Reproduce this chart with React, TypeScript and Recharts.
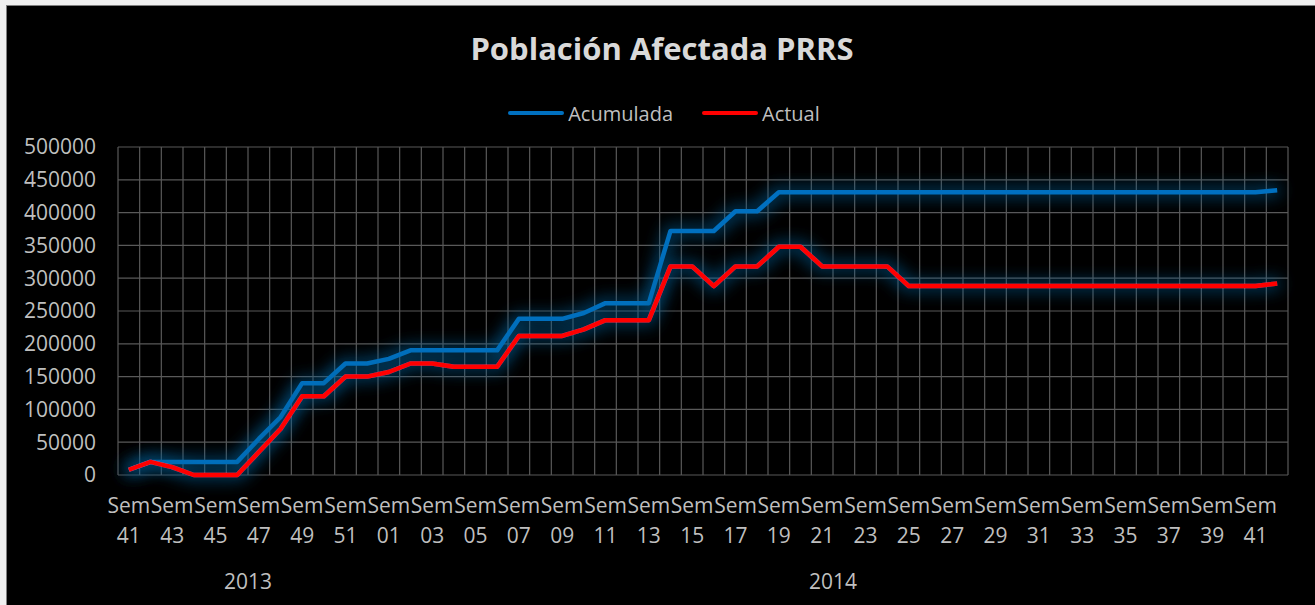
import React from 'react';
import { LineChart, Line, XAxis, YAxis, CartesianGrid, Legend } from 'recharts';

const weeks2013 = ['41', '42', '43', '44', '45', '46', '47', '48', '49', '50', '51', '52'];
const weeks2014 = [
    '01', '02', '03', '04', '05', '06', '07', '08', '09', '10',
    '11', '12', '13', '14', '15', '16', '17', '18', '19', '20',
    '21', '22', '23', '24', '25', '26', '27', '28', '29', '30',
    '31', '32', '33', '34', '35', '36', '37', '38', '39', '40',
    '41', '42',
];
const years = ['2013', '2014'];

const acumulada = [
    8000, 20000, 20000, 20000, 20000, 20000, 55000, 88000, 140000, 140000, 170000, 170000,
    177000, 190000, 190000, 190000, 190000, 190000, 238000, 238000, 238000, 247000,
    262000, 262000, 262000, 372000, 372000, 372000, 402000, 402000,
    431000, 431000, 431000, 431000, 431000, 431000, 431000, 431000, 431000, 431000,
    431000, 431000, 431000, 431000, 431000, 431000, 431000, 431000, 431000, 431000,
    431000, 431000, 431000, 434000,
];
const actual = [
    8000, 20000, 12000, 0, 0, 0, 35000, 70000, 120000, 120000, 150000, 150000,
    157000, 170000, 170000, 165000, 165000, 165000, 212000, 212000, 212000, 222000,
    236000, 236000, 236000, 318000, 318000, 288000, 318000, 318000,
    348000, 348000, 318000, 318000, 318000, 318000,
    288000, 288000, 288000, 288000, 288000, 288000, 288000, 288000, 288000, 288000,
    288000, 288000, 288000, 288000, 288000, 288000, 288000, 292000,
];
const yTicks = [0, 50000, 100000, 150000, 200000, 250000, 300000, 350000, 400000, 450000, 500000];
const seriesOrder = ['Acumulada', 'Actual'];

const W = 1308;
const H = 599;
const MARGIN = { top: 141, right: 27, bottom: 0, left: 0 };
const Y_W = 111;
const X_H = 130;
const FONT = '"Open Sans", "Noto Sans", sans-serif';
const TEXT = '#bfbfbf';

const data = [
    ...weeks2013.map((w) => ({ week: `Sem ${w}`, year: years[0] })),
    ...weeks2014.map((w) => ({ week: `Sem ${w}`, year: years[1] })),
].map((d, i) => ({ ...d, acumulada: acumulada[i], actual: actual[i] }));

const N = data.length;
const BAND = (W - MARGIN.left - Y_W - MARGIN.right) / N;

// middle of each year group, in category index units
const yearCenters = years.map((y) => {
    const idx = data.map((d, i) => (d.year === y ? i : -1)).filter((i) => i >= 0);
    return { year: y, mid: (idx[0] + idx[idx.length - 1]) / 2 };
});

const XTick = (props: any) => {
    const { x, y, index, payload } = props;
    const [sem, num] = String(payload.value).split(' ');
    const group = yearCenters.find((g) => Math.floor(g.mid) === index);
    return (
        <g>
            {index % 2 === 0 && (
                <text textAnchor="middle" fill={TEXT} fontSize={21} fontFamily={FONT}>
                    <tspan x={x} y={y + 38}>{sem}</tspan>
                    <tspan x={x} y={y + 68}>{num}</tspan>
                </text>
            )}
            {group && (
                <text
                    x={x + (group.mid - index) * BAND}
                    y={y + 114}
                    textAnchor="middle"
                    fill={TEXT}
                    fontSize={21}
                    fontFamily={FONT}
                >
                    {group.year}
                </text>
            )}
        </g>
    );
};

const LegendContent = (props: any) => {
    const items = [...(props.payload || [])].sort(
        (a: any, b: any) => seriesOrder.indexOf(a.value) - seriesOrder.indexOf(b.value)
    );
    return (
        <div style={{ display: 'flex', justifyContent: 'center', alignItems: 'center', height: 28, fontFamily: FONT, fontSize: 20, color: TEXT }}>
            {items.map((p: any, i: number) => (
                <div key={p.value} style={{ display: 'flex', alignItems: 'center', marginLeft: i === 0 ? 0 : 29 }}>
                    <div style={{ width: 56, height: 4, borderRadius: 2, background: p.color, marginRight: 4 }} />
                    <span>{p.value}</span>
                </div>
            ))}
        </div>
    );
};

const App: React.FC = () => {
    return (
        <div style={{ position: 'absolute', left: 0, top: 0, width: 1315, height: 605, background: '#f0f0f0', overflow: 'hidden' }}>
            <div style={{ position: 'absolute', left: 6, top: 5, width: W, height: H, background: '#000', borderLeft: '1px solid #808080', borderTop: '1px solid #808080' }}>
                <svg width={W} height={H} style={{ position: 'absolute', left: 0, top: 0 }}>
                    <defs>
                        <filter id="glow" filterUnits="userSpaceOnUse" x={0} y={0} width={W} height={H}>
                            <feMorphology in="SourceAlpha" operator="dilate" radius={3} result="fat" />
                            <feGaussianBlur in="fat" stdDeviation={8} result="blur" />
                            <feFlood floodColor="#0b5f98" floodOpacity={0.65} />
                            <feComposite in2="blur" operator="in" result="glowc" />
                            <feMerge>
                                <feMergeNode in="glowc" />
                                <feMergeNode in="SourceGraphic" />
                            </feMerge>
                        </filter>
                    </defs>
                    <text x={655} y={54} textAnchor="middle" fill="#d9d9d9" fontSize={31} fontWeight="bold" fontFamily={FONT}>
                        Población Afectada PRRS
                    </text>
                </svg>
                <div style={{ position: 'absolute', left: 0, top: 0 }}>
                    <LineChart width={W} height={H} data={data} margin={MARGIN}>
                        <CartesianGrid
                            stroke="#595959"
                            strokeWidth={1.2}
                            verticalCoordinatesGenerator={({ offset }: any) =>
                                Array.from({ length: N + 1 }, (_, k) => offset.left + (k * offset.width) / N)
                            }
                        />
                        <XAxis
                            dataKey="week"
                            interval={0}
                            height={X_H}
                            padding={{ left: BAND / 2, right: BAND / 2 }}
                            axisLine={false}
                            tickLine={false}
                            tickSize={0}
                            tickMargin={0}
                            tick={<XTick />}
                        />
                        <YAxis
                            width={Y_W}
                            domain={[0, 500000]}
                            ticks={yTicks}
                            interval={0}
                            axisLine={false}
                            tickLine={false}
                            tickSize={0}
                            tickMargin={22}
                            tick={{ fill: TEXT, fontSize: 21, fontFamily: FONT }}
                        />
                        <Legend
                            verticalAlign="middle"
                            layout="horizontal"
                            content={<LegendContent />}
                            wrapperStyle={{ top: 93, left: 3, width: W }}
                        />
                        <Line
                            type="linear"
                            dataKey="acumulada"
                            name="Acumulada"
                            stroke="#0070c0"
                            strokeWidth={4.5}
                            strokeLinejoin="round"
                            dot={false}
                            activeDot={false}
                            filter="url(#glow)"
                            isAnimationActive={false}
                        />
                        <Line
                            type="linear"
                            dataKey="actual"
                            name="Actual"
                            stroke="#ff0000"
                            strokeWidth={4.5}
                            strokeLinejoin="round"
                            dot={false}
                            activeDot={false}
                            filter="url(#glow)"
                            isAnimationActive={false}
                        />
                    </LineChart>
                </div>
            </div>
        </div>
    );
};

export default App;
